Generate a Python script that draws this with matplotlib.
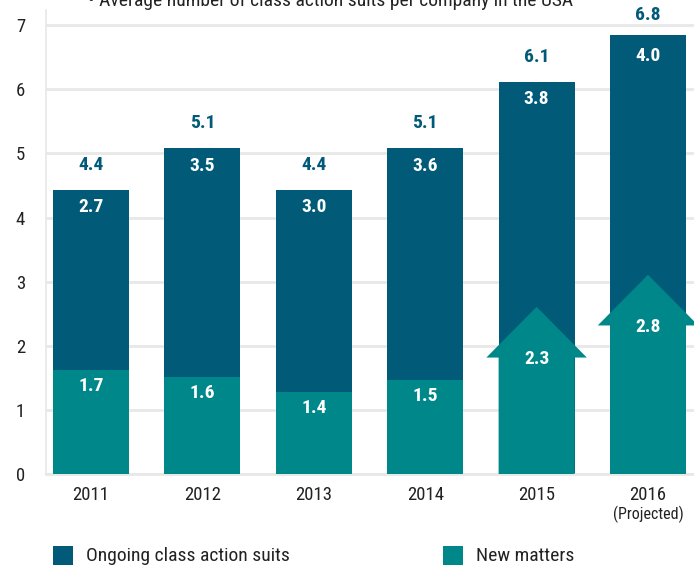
import matplotlib
matplotlib.use("Agg")
import matplotlib.pyplot as plt
from matplotlib import font_manager
from matplotlib.patches import Polygon, Rectangle

years = ["2011", "2012", "2013", "2014", "2015", "2016"]
# values printed on the chart
new_matters = [1.7, 1.6, 1.4, 1.5, 2.3, 2.8]
ongoing = [2.7, 3.5, 3.0, 3.6, 3.8, 4.0]
totals = [4.4, 5.1, 4.4, 5.1, 6.1, 6.8]
# heights as drawn in the picture
new_heights = [1.62, 1.52, 1.28, 1.47, 2.3, 2.8]
total_heights = [4.43, 5.08, 4.43, 5.08, 6.11, 6.85]
arrow_years = ["2015", "2016"]
title = "• Average number of class action suits per company in the USA"
legend_labels = ["Ongoing class action suits", "New matters"]
yticks = [0, 1, 2, 3, 4, 5, 6, 7]

avail = {f.name for f in font_manager.fontManager.ttflist}
family = "DejaVu Sans"
for cand in ["Liberation Sans Narrow", "Roboto Condensed", "Roboto", "Liberation Sans"]:
    if cand in avail:
        family = cand
        break
plt.rcParams["font.family"] = [family, "DejaVu Sans"]

DARK = "#005A78"
TEAL = "#00878A"
GRID = "#E8E8E8"
TXT = "#222222"

fig = plt.figure(figsize=(6.94, 5.65), dpi=100)
ax_left = 46 / 694
ax_bottom = (565 - 474.4) / 565
ax_top = (565 - 10) / 565
ax = fig.add_axes([ax_left, ax_bottom, 1 - ax_left, ax_top - ax_bottom])

px_per_unit = 64.1
ax.set_ylim(0, 7 + 15 / px_per_unit)
ax.set_xlim(-0.404, 5.413)

w = 0.682
x = list(range(len(years)))
NUM = 14

ax.bar(x, total_heights, width=w, color=DARK, zorder=2)
for i, yr in enumerate(years):
    nh = new_heights[i]
    th = total_heights[i]
    if yr in arrow_years:
        tip = nh + 0.31
        base = tip - 0.79
        oh = 0.11
        pts = [(i - w / 2, 0), (i - w / 2, base), (i - w / 2 - oh, base), (i, tip),
               (i + w / 2 + oh, base), (i + w / 2, base), (i + w / 2, 0)]
        ax.add_patch(Polygon(pts, closed=True, facecolor=TEAL, edgecolor="none", zorder=3))
        ly = base - 0.02
    else:
        ax.add_patch(Rectangle((i - w / 2, 0), w, nh, facecolor=TEAL, edgecolor="none", zorder=3))
        ly = nh - 0.25
    ax.text(i, ly, f"{new_matters[i]:.1f}", ha="center", va="center", color="white",
            fontsize=NUM, fontweight="bold", zorder=4)
    top_y = min(th + 0.39, 7.15)
    on_y = th - 0.27 if th + 0.39 <= 7.15 else th - 0.34
    ax.text(i, on_y, f"{ongoing[i]:.1f}", ha="center", va="center",
            color="white", fontsize=NUM, fontweight="bold", zorder=4)
    ax.text(i, top_y, f"{totals[i]:.1f}", ha="center", va="center",
            color=DARK, fontsize=NUM, fontweight="bold", zorder=4)

ax.set_yticks(yticks)
ax.set_yticklabels([str(t) for t in yticks], fontsize=13.5, color=TXT)
ax.yaxis.grid(True, color=GRID, linewidth=2, zorder=0)
ax.set_axisbelow(True)
ax.tick_params(axis="y", length=0, pad=15)
ax.set_xticks(x)
ax.set_xticklabels(years, fontsize=13.5, color=TXT)
ax.tick_params(axis="x", length=0, pad=8)
ax.text(5, -0.625, "(Projected)", ha="center", va="center", fontsize=11.5,
        color=TXT, transform=ax.transData, clip_on=False)

for s in ["top", "right"]:
    ax.spines[s].set_visible(False)
ax.spines["left"].set_color(GRID)
ax.spines["left"].set_linewidth(1.2)
ax.spines["bottom"].set_color(GRID)
ax.spines["bottom"].set_linewidth(2)

fig.text(88 / 694, 1 - 1 / 565, title, ha="left", va="center", fontsize=14, color=TXT)

# legend
for (lx, tx, lab, col) in [(53, 86, legend_labels[0], DARK), (443, 476, legend_labels[1], TEAL)]:
    fig.patches.append(Rectangle((lx / 694, 0), 20 / 694, 19 / 565, transform=fig.transFigure,
                                 facecolor=col, edgecolor="none"))
    fig.text(tx / 694, 9 / 565, lab, ha="left", va="center", fontsize=14, color=TXT)

fig.savefig("out.png", dpi=100)
